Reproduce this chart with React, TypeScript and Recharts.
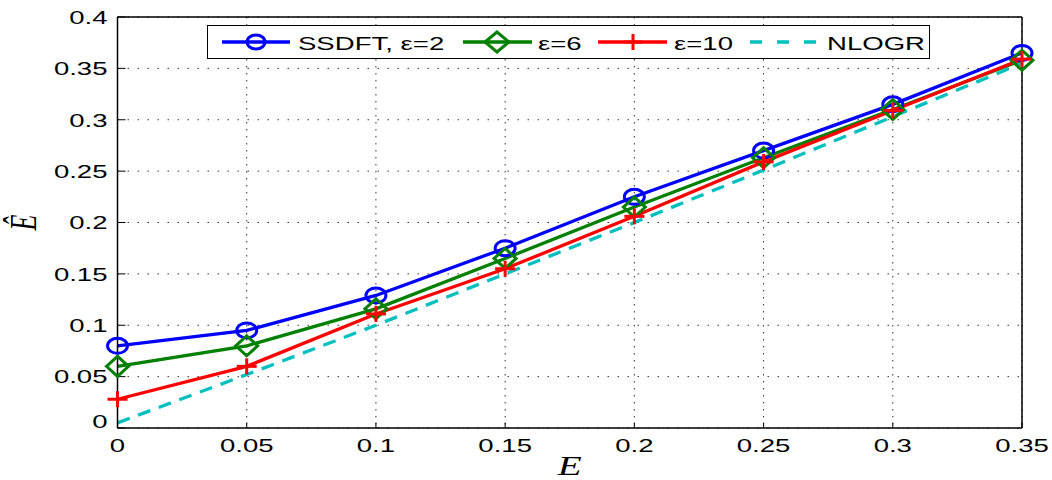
import React from 'react';
import { LineChart, Line, XAxis, YAxis, CartesianGrid, Legend } from 'recharts';

// ---- data ----
const xValues = [0, 0.05, 0.1, 0.15, 0.2, 0.25, 0.3, 0.35];
const ssdftEps2 = [0.08, 0.095, 0.129, 0.175, 0.225, 0.27, 0.315, 0.365];
const ssdftEps6 = [0.06, 0.08, 0.116, 0.165, 0.215, 0.263, 0.31, 0.358];
const ssdftEps10 = [0.028, 0.06, 0.111, 0.155, 0.206, 0.259, 0.309, 0.359];
const nlogr = [0.005, 0.052, 0.1, 0.15, 0.2, 0.251, 0.303, 0.355];

const xTicks = [0, 0.05, 0.1, 0.15, 0.2, 0.25, 0.3, 0.35];
const yTicks = [0, 0.05, 0.1, 0.15, 0.2, 0.25, 0.3, 0.35, 0.4];
const seriesNames = ['SSDFT, ε=2', 'ε=6', 'ε=10', 'NLOGR'];
const xLabel = 'E';
const yLabel = 'Ê';

const data = xValues.map((x, i) => ({
  x,
  s2: ssdftEps2[i],
  s6: ssdftEps6[i],
  s10: ssdftEps10[i],
  nl: nlogr[i],
}));

// ---- styles ----
const BLUE = '#0000FF';
const GREEN = '#008000';
const RED = '#FF0000';
const CYAN = '#00BFBF';
const SX = 1.45;
const FONT = '"Liberation Sans", Arial, Helvetica, sans-serif';
const SERIF = '"Liberation Serif", "Times New Roman", serif';
const FS = 19;
const LW = 3.3;

const XTick = (props: any) => {
  const { x, y, payload } = props;
  return (
    <text transform={`translate(${x},${y}) scale(${SX},1)`} textAnchor="middle" fontFamily={FONT} fontSize={FS} fill="#000">
      {String(payload.value)}
    </text>
  );
};

const YTick = (props: any) => {
  const { x, y, payload } = props;
  const dy = payload.value === 0 ? 0 : 6.8;
  return (
    <text transform={`translate(${x},${y + dy}) scale(${SX},1)`} textAnchor="end" fontFamily={FONT} fontSize={FS} fill="#000">
      {String(payload.value)}
    </text>
  );
};

const circleShape = (cx: number, cy: number, color: string, key: any, rx = 10, ry = 7.5) => (
  <ellipse key={key} cx={cx} cy={cy} rx={rx} ry={ry} fill="none" stroke={color} strokeWidth={3} />
);
const diamondShape = (cx: number, cy: number, color: string, key: any, hw = 11, hh = 10) => (
  <path key={key} d={`M${cx - hw},${cy} L${cx},${cy - hh} L${cx + hw},${cy} L${cx},${cy + hh} Z`} fill="none" stroke={color} strokeWidth={3} />
);
const plusShape = (cx: number, cy: number, color: string, key: any, hw = 10, hh = 8) => (
  <g key={key}>
    <line x1={cx - hw} y1={cy} x2={cx + hw} y2={cy} stroke={color} strokeWidth={3} />
    <line x1={cx} y1={cy - hh} x2={cx} y2={cy + hh} stroke={color} strokeWidth={3} />
  </g>
);

const CircleDot = (p: any) => (p.cx == null ? <g key={`c${p.index}`} /> : circleShape(p.cx, p.cy, BLUE, `c${p.index}`));
const DiamondDot = (p: any) => (p.cx == null ? <g key={`d${p.index}`} /> : diamondShape(p.cx, p.cy, GREEN, `d${p.index}`));
const PlusDot = (p: any) => (p.cx == null ? <g key={`p${p.index}`} /> : plusShape(p.cx, p.cy, RED, `p${p.index}`));

const LegendBox = () => {
  const cy = 17;
  const base = 24.5;
  const txt = (x: number, s: string) => (
    <text transform={`translate(${x},${base}) scale(${SX},1)`} fontFamily={FONT} fontSize={FS} fill="#000">{s}</text>
  );
  return (
    <svg width={723} height={34} style={{ display: 'block' }}>
      <rect x={0.5} y={0.5} width={722} height={33} fill="#fff" stroke="#000" strokeWidth={1} />
      <line x1={15} y1={cy} x2={83} y2={cy} stroke={BLUE} strokeWidth={LW} />
      {circleShape(49, cy, BLUE, 'lc', 9, 7)}
      {txt(91, seriesNames[0])}
      <line x1={256} y1={cy} x2={325} y2={cy} stroke={GREEN} strokeWidth={LW} />
      {diamondShape(290, cy, GREEN, 'ld', 12, 10)}
      {txt(331, seriesNames[1])}
      <line x1={391} y1={cy} x2={460} y2={cy} stroke={RED} strokeWidth={LW} />
      {plusShape(426, cy, RED, 'lp', 9, 8)}
      {txt(467, seriesNames[2])}
      <line x1={543} y1={cy} x2={611} y2={cy} stroke={CYAN} strokeWidth={LW} strokeDasharray="12 15" />
      {txt(620, seriesNames[3])}
    </svg>
  );
};

const XLabel = (props: any) => {
  const vb = props.viewBox || { x: 0, y: 0, width: 0, height: 0 };
  const cx = vb.x + vb.width / 2;
  return (
    <text transform={`translate(${cx},${vb.y + 47}) scale(${SX},1)`} textAnchor="middle" fontFamily={SERIF} fontStyle="italic" fontSize={27} fill="#000">
      {xLabel}
    </text>
  );
};

const YLabel = (props: any) => {
  const vb = props.viewBox || { x: 0, y: 0, width: 0, height: 0 };
  const cy = vb.y + vb.height / 2;
  return (
    <text transform={`translate(${vb.x + 36},${cy}) scale(${SX},1) rotate(-90)`} textAnchor="middle" fontFamily={SERIF} fontStyle="italic" fontSize={26} fill="#000">
      {yLabel}
    </text>
  );
};

export default function App() {
  return (
    <div style={{ position: 'absolute', left: 0, top: 0, width: 1052, height: 480 }}>
      <LineChart width={1052} height={480} data={data} margin={{ top: 16, right: 29, left: 0, bottom: 0 }}>
        <CartesianGrid horizontal vertical={false} stroke="#333" strokeDasharray="1.5 8.5" />
        <CartesianGrid horizontal={false} vertical stroke="#333" strokeDasharray="1.5 5.5" />
        <XAxis
          dataKey="x"
          type="number"
          domain={[0, 0.35]}
          ticks={xTicks}
          interval={0}
          height={52}
          tickSize={-5.5}
          tickMargin={29.5}
          tick={<XTick />}
          axisLine={{ stroke: '#000', strokeWidth: 1.5 }}
          tickLine={{ stroke: '#000' }}
          label={{ content: (p: any) => <XLabel {...p} /> }}
        />
        <XAxis
          xAxisId="top"
          dataKey="x"
          type="number"
          orientation="top"
          domain={[0, 0.35]}
          ticks={xTicks}
          interval={0}
          height={1}
          tickSize={-5.5}
          tick={false}
          axisLine={{ stroke: '#000', strokeWidth: 1.5 }}
          tickLine={{ stroke: '#000' }}
        />
        <YAxis
          type="number"
          domain={[0, 0.4]}
          ticks={yTicks}
          interval={0}
          width={117.5}
          tickSize={-8}
          tickMargin={18}
          tick={<YTick />}
          axisLine={{ stroke: '#000', strokeWidth: 1.5 }}
          tickLine={{ stroke: '#000' }}
          label={{ content: (p: any) => <YLabel {...p} /> }}
        />
        <YAxis
          yAxisId="right"
          type="number"
          orientation="right"
          domain={[0, 0.4]}
          ticks={yTicks}
          interval={0}
          width={1}
          tickSize={-8}
          tick={false}
          axisLine={{ stroke: '#000', strokeWidth: 1.5 }}
          tickLine={{ stroke: '#000' }}
        />
        <Legend
          layout="horizontal"
          verticalAlign="middle"
          align="center"
          wrapperStyle={{ position: 'absolute', left: 207, top: 25, width: 723, height: 34 }}
          content={() => <LegendBox />}
        />
        <Line dataKey="s2" name={seriesNames[0]} stroke={BLUE} strokeWidth={LW} dot={CircleDot} activeDot={false} isAnimationActive={false} />
        <Line dataKey="s6" name={seriesNames[1]} stroke={GREEN} strokeWidth={LW} dot={DiamondDot} activeDot={false} isAnimationActive={false} />
        <Line dataKey="s10" name={seriesNames[2]} stroke={RED} strokeWidth={LW} dot={PlusDot} activeDot={false} isAnimationActive={false} />
        <Line dataKey="nl" name={seriesNames[3]} stroke={CYAN} strokeWidth={LW} strokeDasharray="13 9" dot={false} activeDot={false} isAnimationActive={false} />
      </LineChart>
    </div>
  );
}
